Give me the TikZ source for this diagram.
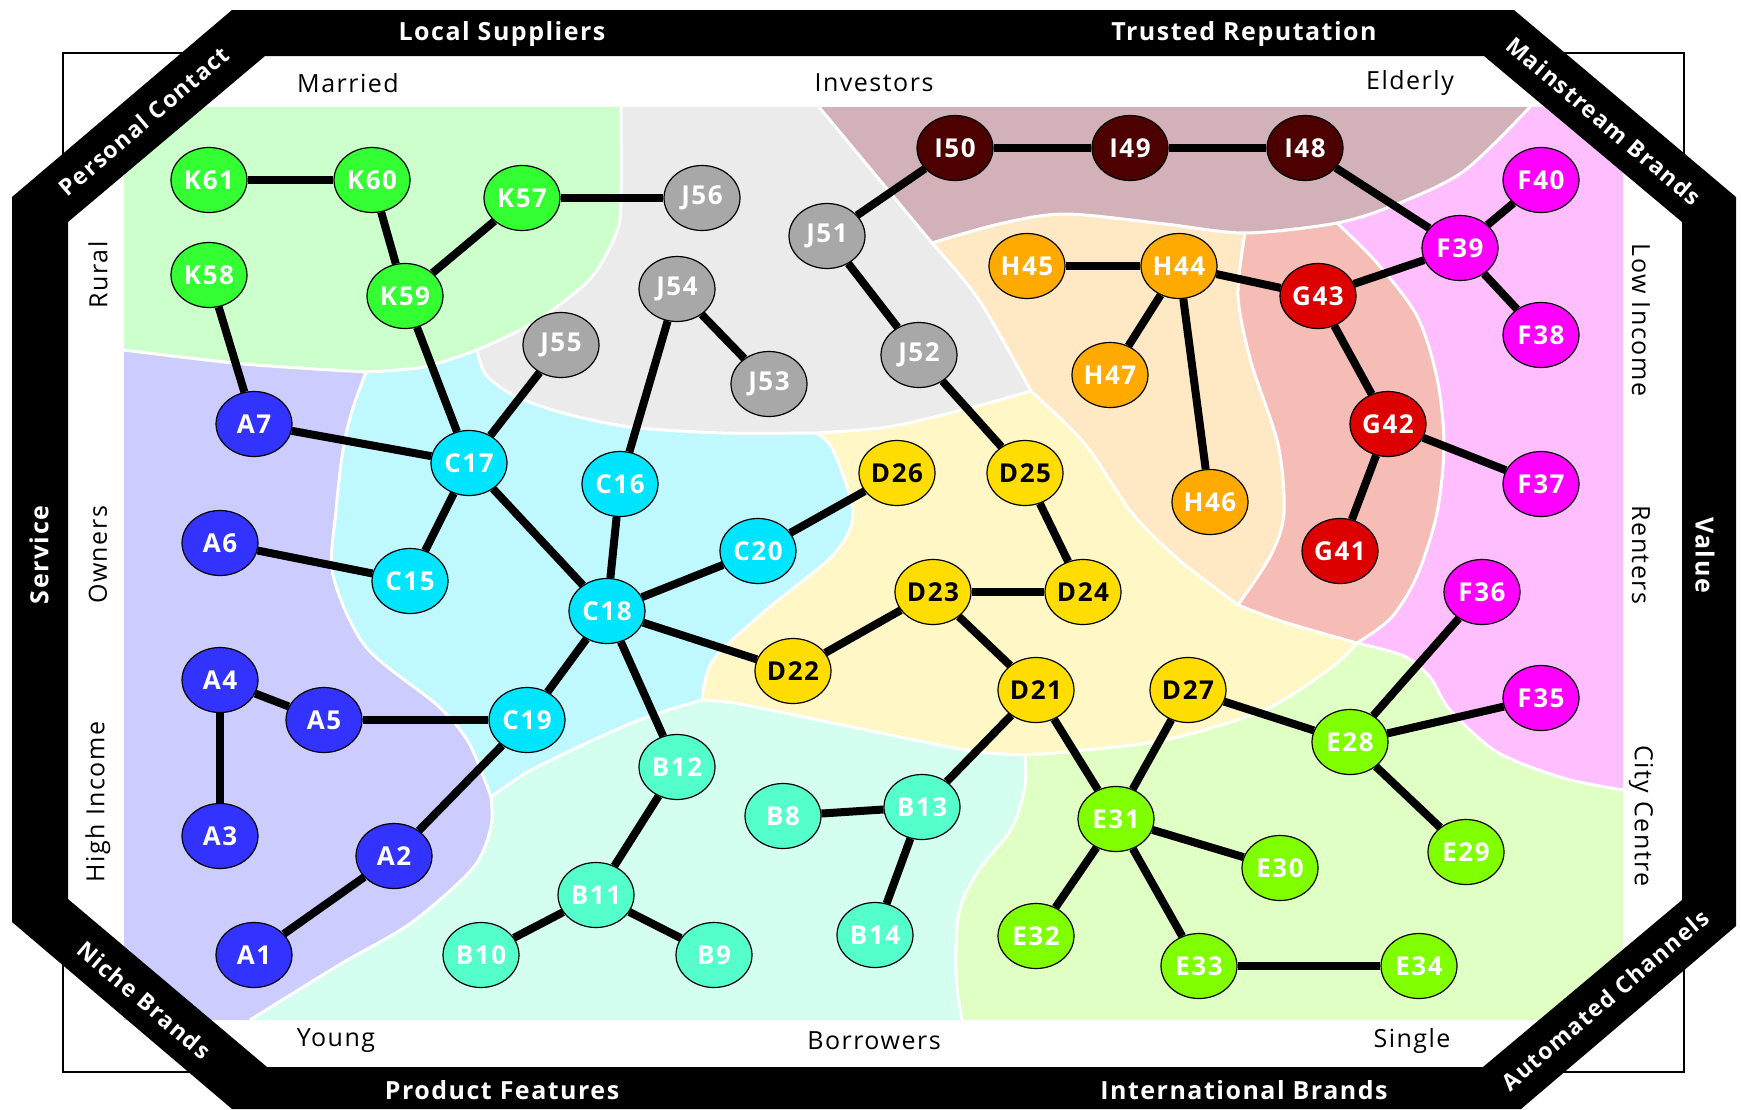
\documentclass[tikz,border=0pt]{standalone}
\usepackage{fontspec}
\setmainfont{Open Sans}[LetterSpace=6]
\usetikzlibrary{shapes.geometric}

% field colours
\definecolor{Kreg}{RGB}{204,255,204}
\definecolor{Jreg}{RGB}{235,235,235}
\definecolor{Ireg}{RGB}{210,178,184}
\definecolor{Hreg}{RGB}{255,233,196}
\definecolor{Greg}{RGB}{245,189,181}
\definecolor{Freg}{RGB}{255,191,255}
\definecolor{Dreg}{RGB}{255,248,198}
\definecolor{Creg}{RGB}{192,248,255}
\definecolor{Areg}{RGB}{204,204,255}
\definecolor{Breg}{RGB}{212,255,240}
\definecolor{Ereg}{RGB}{224,255,196}
% node colours
\definecolor{Knode}{RGB}{51,255,51}
\definecolor{Jnode}{RGB}{168,168,168}
\definecolor{Inode}{RGB}{77,0,0}
\definecolor{Hnode}{RGB}{255,170,0}
\definecolor{Gnode}{RGB}{221,0,0}
\definecolor{Fnode}{RGB}{255,0,255}
\definecolor{Dnode}{RGB}{255,221,0}
\definecolor{Cnode}{RGB}{0,229,255}
\definecolor{Anode}{RGB}{51,51,255}
\definecolor{Bnode}{RGB}{85,255,204}
\definecolor{Enode}{RGB}{128,255,0}

\begin{document}
\begin{tikzpicture}[x=1pt,y=-1pt,
  seg/.style={ellipse,draw=black,line width=1.2pt,minimum width=76pt,minimum height=65pt,
    inner sep=0pt,text=white,font=\bfseries\fontsize{26}{26}\selectfont},
  link/.style={line width=8pt},
  border/.style={white,line width=3pt},
  band/.style={text=white,font=\bfseries\fontsize{25}{25}\selectfont},
  corner/.style={band,font=\bfseries\fontsize{23}{23}\selectfont},
  axis/.style={font=\fontsize{25}{25}\selectfont}]
\useasboundingbox (0,0) rectangle (1741,1109);

% Outer box
\draw[line width=1.8pt] (63,53) rectangle (1684,1072);

% Fields
\fill[Kreg] (124,107) -- (621,107)
  -- plot[smooth] coordinates {(621,107) (621,201) (616,234) (590,279) (535,322) (477,350)}
  -- plot[smooth] coordinates {(477,350) (424,367) (366,372)}
  -- plot[smooth] coordinates {(366,372) (244,364) (124,350)} -- cycle;
\fill[Jreg] (621,107) -- (819,107) -- (932,243)
  -- plot[smooth] coordinates {(932,243) (979,300) (1031,391)}
  -- plot[smooth] coordinates {(1031,391) (966,409) (888,427) (816,433)}
  -- plot[smooth] coordinates {(816,433) (722,433) (630,427) (563,413) (515,396) (486,375) (477,350)}
  -- plot[smooth] coordinates {(477,350) (535,322) (590,279) (616,234) (621,201) (621,107)} -- cycle;
\fill[Ireg] (819,107) -- (1530,107)
  -- plot[smooth] coordinates {(1530,107) (1464,171) (1397,204) (1337,223)}
  -- (1245,233)
  -- plot[smooth] coordinates {(1245,233) (1165,224) (1065,214) (999,224) (932,243)} -- cycle;
\fill[Hreg] plot[smooth] coordinates {(932,243) (999,224) (1065,214) (1165,224) (1245,233)}
  -- plot[smooth] coordinates {(1245,233) (1238,296) (1251,362) (1278,444) (1284,513) (1271,555) (1238,605)}
  -- plot[smooth] coordinates {(1238,605) (1178,559) (1132,513) (1085,444) (1031,391)}
  -- plot[smooth] coordinates {(1031,391) (979,300) (932,243)} -- cycle;
\fill[Greg] (1245,233) -- (1337,223)
  -- plot[smooth] coordinates {(1337,223) (1377,263) (1417,316) (1437,378) (1444,444) (1437,513) (1417,576) (1391,618) (1357,643)}
  -- plot[smooth] coordinates {(1357,643) (1284,622) (1238,605)}
  -- plot[smooth] coordinates {(1238,605) (1271,555) (1284,513) (1278,444) (1251,362) (1238,296) (1245,233)} -- cycle;
\fill[Freg] plot[smooth] coordinates {(1337,223) (1397,204) (1464,171) (1530,107)}
  -- (1623,107) -- (1623,790)
  -- plot[smooth] coordinates {(1623,790) (1563,778) (1497,752) (1450,710) (1430,677) (1404,656) (1357,643)}
  -- plot[smooth] coordinates {(1357,643) (1391,618) (1417,576) (1437,513) (1444,444) (1437,378) (1417,316) (1377,263) (1337,223)} -- cycle;
\fill[Dreg] plot[smooth] coordinates {(1031,391) (1085,444) (1132,513) (1178,559) (1238,605)}
  -- plot[smooth] coordinates {(1238,605) (1284,622) (1357,643)}
  -- plot[smooth] coordinates {(1357,643) (1331,668) (1264,710) (1165,740) (1065,752) (1025,755)}
  -- plot[smooth] coordinates {(1025,755) (966,750) (833,723) (740,704) (702,700)}
  -- plot[smooth] coordinates {(702,700) (713,660) (766,610) (833,555) (853,513) (833,450) (816,433)}
  -- plot[smooth] coordinates {(816,433) (888,427) (966,409) (1031,391)} -- cycle;
\fill[Creg] plot[smooth] coordinates {(366,372) (424,367) (477,350)}
  -- plot[smooth] coordinates {(477,350) (486,375) (515,396) (563,413) (630,427) (722,433) (816,433)}
  -- plot[smooth] coordinates {(816,433) (833,450) (853,513) (833,555) (766,610) (713,660) (702,700)}
  -- plot[smooth] coordinates {(702,700) (634,722) (535,768) (491,797)}
  -- plot[smooth] coordinates {(491,797) (469,743) (437,705) (366,647) (333,575) (336,511) (343,450) (352,411) (366,372)} -- cycle;
\fill[Areg] (124,350)
  -- plot[smooth] coordinates {(124,350) (244,364) (366,372)}
  -- plot[smooth] coordinates {(366,372) (352,411) (343,450) (336,511) (333,575) (366,647) (437,705) (469,743) (491,797)}
  -- plot[smooth] coordinates {(491,797) (491,827) (473,868) (411,923) (339,965) (250,1020)}
  -- (124,1020) -- cycle;
\fill[Breg] (250,1020)
  -- plot[smooth] coordinates {(250,1020) (339,965) (411,923) (473,868) (491,827) (491,797)}
  -- plot[smooth] coordinates {(491,797) (535,768) (634,722) (702,700)}
  -- plot[smooth] coordinates {(702,700) (740,704) (833,723) (966,750) (1025,755)}
  -- plot[smooth] coordinates {(1025,755) (1025,786) (1012,828) (979,870) (959,912) (956,975) (962,1020)} -- cycle;
\fill[Ereg] plot[smooth] coordinates {(1025,755) (1065,752) (1165,740) (1264,710) (1331,668) (1357,643)}
  -- plot[smooth] coordinates {(1357,643) (1404,656) (1430,677) (1450,710) (1497,752) (1563,778) (1623,790)}
  -- (1623,1020) -- (962,1020)
  -- plot[smooth] coordinates {(962,1020) (956,975) (959,912) (979,870) (1012,828) (1025,786) (1025,755)} -- cycle;

% Field borders
\draw[border] plot[smooth] coordinates {(124,350) (244,364) (366,372)};
\draw[border] plot[smooth] coordinates {(366,372) (424,367) (477,350)};
\draw[border] plot[smooth] coordinates {(477,350) (535,322) (590,279) (616,234) (621,201) (621,107)};
\draw[border] (819,107) -- (932,243);
\draw[border] plot[smooth] coordinates {(932,243) (979,300) (1031,391)};
\draw[border] plot[smooth] coordinates {(1031,391) (966,409) (888,427) (816,433)};
\draw[border] plot[smooth] coordinates {(816,433) (722,433) (630,427) (563,413) (515,396) (486,375) (477,350)};
\draw[border] plot[smooth] coordinates {(816,433) (833,450) (853,513) (833,555) (766,610) (713,660) (702,700)};
\draw[border] plot[smooth] coordinates {(702,700) (634,722) (535,768) (491,797)};
\draw[border] plot[smooth] coordinates {(366,372) (352,411) (343,450) (336,511) (333,575) (366,647) (437,705) (469,743) (491,797)};
\draw[border] plot[smooth] coordinates {(491,797) (491,827) (473,868) (411,923) (339,965) (250,1020)};
\draw[border] plot[smooth] coordinates {(702,700) (740,704) (833,723) (966,750) (1025,755)};
\draw[border] plot[smooth] coordinates {(1025,755) (1065,752) (1165,740) (1264,710) (1331,668) (1357,643)};
\draw[border] plot[smooth] coordinates {(1025,755) (1025,786) (1012,828) (979,870) (959,912) (956,975) (962,1020)};
\draw[border] plot[smooth] coordinates {(1031,391) (1085,444) (1132,513) (1178,559) (1238,605)};
\draw[border] plot[smooth] coordinates {(1238,605) (1284,622) (1357,643)};
\draw[border] plot[smooth] coordinates {(1245,233) (1238,296) (1251,362) (1278,444) (1284,513) (1271,555) (1238,605)};
\draw[border] plot[smooth] coordinates {(1337,223) (1377,263) (1417,316) (1437,378) (1444,444) (1437,513) (1417,576) (1391,618) (1357,643)};
\draw[border] plot[smooth] coordinates {(1357,643) (1404,656) (1430,677) (1450,710) (1497,752) (1563,778) (1623,790)};
\draw[border] plot[smooth] coordinates {(932,243) (999,224) (1065,214) (1165,224) (1245,233) (1337,223) (1397,204) (1464,171) (1530,107)};

% Black band (over the field corners)
\fill[black,even odd rule] (232,10) -- (1514,10) -- (1736,197) -- (1736,926) -- (1521,1109)
  -- (232,1109) -- (12,922) -- (12,197) -- cycle
  (265,56) -- (1484,56) -- (1682,222) -- (1682,900) -- (1483,1067) -- (267,1067)
  -- (68,899) -- (68,222) -- cycle;

% Band texts
\node[band] (ls) at (502,34) {Local Suppliers};
\node[band] (tr) at (1244,34) {Trusted Reputation};
\node[band] (pf) at (502,1090) {Product Features};
\node[band] (ib) at (1244,1090) {International Brands};
\node[band,rotate=90] (sv) at (39,555) {Service};
\node[band,rotate=-90] (vl) at (1705,555) {Value};
\node[corner,rotate=40.4] (pc) at (144,121) {Personal Contact};
\node[corner,rotate=-40.2] (mb) at (1604,121) {Mainstream Brands};
\node[corner,rotate=-40.4] (nb) at (144,1000) {Niche Brands};
\node[corner,rotate=40.4] (ac) at (1605,1000) {Automated Channels};

% Axis texts
\node[axis] (mar) at (348,83) {Married};
\node[axis] (inv) at (874,83) {Investors};
\node[axis] (eld) at (1410,83) {Elderly};
\node[axis] (yng) at (336,1041) {Young};
\node[axis] (bor) at (874,1041) {Borrowers};
\node[axis] (sgl) at (1412,1041) {Single};
\node[axis,rotate=90] (rur) at (98,275) {Rural};
\node[axis,rotate=90] (own) at (98,555) {Owners};
\node[axis,rotate=90] (hin) at (98,802) {High Income};
\node[axis,rotate=-90] (lin) at (1641,320) {Low Income};
\node[axis,rotate=-90] (ren) at (1641,555) {Renters};
\node[axis,rotate=-90] (cc) at (1641,816) {City Centre};

% Segments
\foreach \n/\x/\y in {K61/209/180, K60/372/180, K57/522/198, K58/209/275, K59/405/296}
  \node[seg,fill=Knode] (\n) at (\x,\y) {\n};
\foreach \n/\x/\y in {J56/702/198, J54/677/289, J55/561/345, J53/769/384, J51/827/236, J52/919/355}
  \node[seg,fill=Jnode] (\n) at (\x,\y) {\n};
\foreach \n/\x/\y in {I50/955/148, I49/1130/148, I48/1305/148}
  \node[seg,fill=Inode] (\n) at (\x,\y) {\n};
\foreach \n/\x/\y in {F40/1541/180, F39/1460/248, F38/1541/335, F37/1541/484, F36/1482/592, F35/1541/698}
  \node[seg,fill=Fnode] (\n) at (\x,\y) {\n};
\foreach \n/\x/\y in {H45/1027/266, H44/1179/266, H47/1110/375, H46/1210/502}
  \node[seg,fill=Hnode] (\n) at (\x,\y) {\n};
\foreach \n/\x/\y in {G43/1318/296, G42/1388/424, G41/1340/551}
  \node[seg,fill=Gnode] (\n) at (\x,\y) {\n};
\foreach \n/\x/\y in {A7/254/424, A6/220/543, A4/220/680, A5/324/720, A3/220/836, A2/394/856, A1/254/955}
  \node[seg,fill=Anode] (\n) at (\x,\y) {\n};
\foreach \n/\x/\y in {C17/469/463, C16/620/484, C15/410/581, C20/758/551, C18/607/611, C19/527/720}
  \node[seg,fill=Cnode] (\n) at (\x,\y) {\n};
\foreach \n/\x/\y in {D26/897/473, D25/1025/473, D23/933/592, D24/1083/592, D22/793/671, D21/1036/690, D27/1188/690}
  \node[seg,fill=Dnode,text=black] (\n) at (\x,\y) {\n};
\foreach \n/\x/\y in {B12/677/767, B8/783/816, B13/922/807, B11/596/895, B10/481/955, B9/714/955, B14/875/935}
  \node[seg,fill=Bnode] (\n) at (\x,\y) {\n};
\foreach \n/\x/\y in {E28/1350/742, E31/1116/819, E30/1280/868, E29/1466/852, E32/1036/936, E33/1199/966, E34/1419/966}
  \node[seg,fill=Enode] (\n) at (\x,\y) {\n};

% Links
\foreach \a/\b in {K61/K60, K60/K59, K57/K59, K57/J56, K58/A7, K59/C17, A7/C17, C17/J55,
    C17/C15, C17/C18, A6/C15, J54/J53, J54/C16, C16/C18, C18/C20, C20/D26, C18/D22,
    C18/C19, C18/B12, A4/A5, A4/A3, A5/C19, C19/A2, A2/A1, B12/B11, B11/B10, B11/B9,
    B8/B13, B13/B14, B13/D21, D22/D23, D23/D24, D23/D21, D25/D24, D25/J52, J52/J51,
    J51/I50, I50/I49, I49/I48, I48/F39, F39/F40, F39/F38, F39/G43, G43/H44, H44/H45,
    H44/H47, H44/H46, G43/G42, G42/F37, G42/G41, D21/E31, D27/E31, D27/E28, E28/F36,
    E28/F35, E28/E29, E31/E30, E31/E32, E31/E33, E33/E34}
  \draw[link] (\a) -- (\b);
\end{tikzpicture}
\end{document}
